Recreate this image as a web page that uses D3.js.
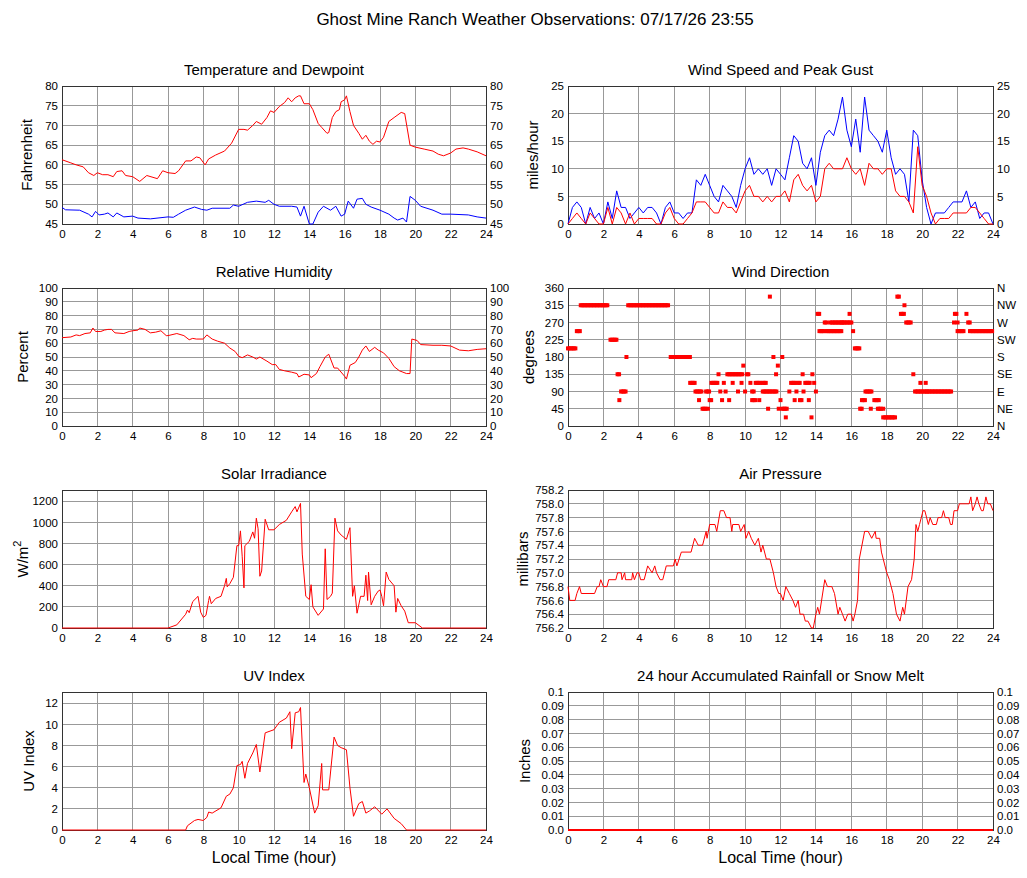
<!DOCTYPE html>
<html><head><meta charset="utf-8">
<script src="https://cdn.jsdelivr.net/npm/d3@7"></script>
<style>body{margin:0;background:#fff}svg{font-family:"Liberation Sans",Arial,sans-serif}</style>
</head><body><svg id="c" width="1027" height="878"></svg>
<script>
const hourTicks = [0,2,4,6,8,10,12,14,16,18,20,22,24];
const tempData = [[0,61.3],[0.5,60.5],[0.8,60],[1.2,59.5],[1.5,58],[1.8,57.3],[2,58],[2.3,57.5],[2.6,57.5],[2.9,57],[3.1,58.3],[3.4,58.5],[3.6,57.3],[4,57],[4.4,55.8],[4.8,57.3],[5.4,56.5],[5.7,58.5],[6,58],[6.4,57.8],[6.6,58.5],[7,61],[7.3,61],[7.6,62],[7.8,61.8],[8.1,60],[8.3,61.5],[8.7,62.5],[9.2,63.5],[9.6,65.5],[10,69],[10.3,69],[10.5,68.8],[10.8,70],[11,71],[11.3,70.3],[11.6,72],[11.8,73.7],[12,73.3],[12.3,74.8],[12.6,75.8],[12.8,77],[13,76],[13.2,77],[13.4,77.5],[13.5,77.5],[13.7,75.5],[14,75.5],[14.2,74],[14.5,70.5],[14.7,69.5],[15,68],[15.1,68.2],[15.3,72],[15.5,73.5],[15.7,74],[15.8,76],[16,76.5],[16.1,77.5],[16.3,73.5],[16.5,70],[16.8,68],[17,66.5],[17.2,67.5],[17.4,66],[17.6,65.2],[17.8,66],[18,65.8],[18.2,67],[18.5,71],[18.8,72],[19.2,73.3],[19.4,73],[19.7,65],[20,64.5],[20.5,64],[21,63.5],[21.3,62.7],[21.6,62.3],[22,63],[22.3,64],[22.7,64.3],[23,64],[23.5,63.3],[24,62.3]];
const dewData = [[0,49.2],[0.2,48.6],[1,48.5],[1.5,47.5],[1.7,46.8],[1.9,48.2],[2.1,47.3],[2.4,47.5],[2.6,47.8],[2.9,46.8],[3.1,47.8],[3.5,46.8],[4,47],[4.3,46.5],[5,46.3],[6,46.8],[6.3,46.7],[6.6,47.5],[7,48.5],[7.5,49.3],[7.9,48.7],[8.2,48.5],[8.5,49],[9,49],[9.5,49],[9.7,49.8],[10,49.5],[10.5,50.5],[11,50.8],[11.5,50.5],[11.7,51],[12,50],[12.3,49.5],[13,49.5],[13.3,49.3],[13.5,47],[13.7,49.5],[14,45],[14.2,45],[14.5,48],[14.8,49.5],[15.2,48.5],[15.5,49.5],[15.8,47],[16,47.5],[16.2,50.8],[16.5,49],[16.7,51.3],[17,51.5],[17.2,50],[17.5,49.3],[18,48.5],[18.5,47.5],[18.8,46.5],[19,46],[19.3,46.5],[19.5,45.5],[19.7,52],[20,51],[20.3,49.5],[21,48.5],[21.5,47.5],[22,47.5],[23,47.3],[23.5,46.8],[24,46.5]];
const windStep = 0.25;
const windSpeed = [0,1,2,1, 0,2,1,0, 0,3,0,3, 2,0,2,0, 1,1,1,1, 0,0,2,3, 1,0,0,1, 2,4,4,4, 3,2,2,4, 3,3,2,4, 6,7,5,5, 4,5,4,5, 5,6,4,8, 9,7,6,7, 4,5,10,11, 10,10,10,12, 10,9,10,7, 11,10,10,9, 10,10,6,5, 5,4,2,14, 7,5,2,0, 1,1,1,2, 2,2,2,3, 3,2,1,0, 0];
const windGust = [0,3,4,3, 0,3,1,2, 0,4,1,6, 3,3,1,2, 3,2,3,3, 2,0,3,4, 2,2,1,2, 2,8,7,9, 7,5,4,7, 6,5,3,7, 10,12,9,10, 9,10,7,10, 9,8,12,16, 15,11,10,12, 7,13,16,17, 16,19,23,17, 14,19,13,23, 17,16,15,13, 17,12,9,10, 9,4,17,16, 8,3,0,2, 2,2,3,4, 4,4,6,3, 4,1,2,2, 0];
const dirRuns = [[0,0.45,202.5],[0.5,0.7,247.5],[0.72,2.3,315],[2.4,2.8,225],[2.8,2.95,135],[2.9,2.9,67.5],[3.0,3.3,90],[3.3,3.3,180],[3.4,5.7,315],[5.8,6.9,180],[6.9,7.2,112.5],[7.2,7.6,90],[7.4,7.4,67.5],[7.6,7.8,45],[7.8,8.0,90],[7.9,7.9,45],[8.0,8.1,67.5],[8.1,8.5,112.5],[8.5,8.5,135],[8.6,8.6,90],[8.7,8.7,67.5],[8.8,8.8,112.5],[8.9,8.9,90],[9.0,9.9,135],[9.1,9.1,67.5],[9.3,9.3,112.5],[9.6,9.6,90],[9.8,9.8,112.5],[9.9,9.9,157.5],[10,10,90],[10.1,10.2,135],[10.3,10.3,112.5],[10.4,10.5,90],[10.4,10.6,67.5],[10.6,10.9,112.5],[10.8,10.8,67.5],[11,11.2,112.5],[11,11.5,90],[11.3,11.3,45],[11.4,11.4,337.5],[11.6,11.8,90],[11.6,11.6,180],[11.75,11.75,135],[11.85,11.85,157.5],[11.9,11.9,45],[12,12,67.5],[12.1,12.1,180],[12.1,12.4,45],[12.3,12.3,22.5],[12.5,12.5,90],[12.6,12.9,112.5],[12.8,12.8,67.5],[12.9,12.9,90],[13,13.1,112.5],[13.1,13.2,67.5],[13.25,13.25,135],[13.3,13.3,90],[13.4,13.7,112.5],[13.6,13.6,67.5],[13.75,13.75,22.5],[13.8,13.8,135],[13.9,13.9,112.5],[14,14,90],[14.1,14.2,292.5],[14.2,14.5,247.5],[14.5,14.6,270],[14.6,15.5,247.5],[14.8,14.8,270],[14.9,15.5,270],[15.5,16,270],[15.9,15.9,292.5],[16.1,16.1,247.5],[16.2,16.5,202.5],[16.5,16.6,45],[16.6,16.8,67.5],[16.8,17.2,90],[17.1,17.1,45],[17.3,17.6,67.5],[17.5,17.7,45],[17.8,17.8,45],[17.8,18.5,22.5],[18.6,18.7,337.5],[18.8,19.0,292.5],[19.0,19.0,315],[19.1,19.4,270],[19.5,19.5,135],[19.6,20.3,90],[19.9,19.9,112.5],[20.2,20.2,112.5],[20.3,21.7,90],[21.8,21.8,270],[21.85,21.95,292.5],[22,22,270],[22,22.4,247.5],[22.5,22.5,292.5],[22.6,22.7,270],[22.7,24,247.5]];
const dirTicks = [0,45,90,135,180,225,270,315,360];
const compassLabels = ["N","NE","E","SE","S","SW","W","NW","N"];
const rhData = [[0,64],[0.5,64.5],[0.8,66],[1,65.5],[1.3,67],[1.6,67.5],[1.75,71],[1.9,68.5],[2.2,68.5],[2.4,69.5],[2.6,70],[2.8,70],[3,67.5],[3.5,67],[3.8,68.5],[4,69],[4.3,69.5],[4.4,71],[4.7,70],[5,67.5],[5.3,68],[5.6,69],[5.9,65.5],[6,65.5],[6.5,67],[6.9,65.5],[7.2,62.5],[7.4,63.5],[7.6,63],[8,63],[8.2,66],[8.5,63],[8.8,61.5],[9.2,60],[9.5,56.5],[9.8,54],[10,50.5],[10.2,49.5],[10.5,51.5],[10.8,50],[11,48.5],[11.2,50],[11.6,47],[11.9,44.5],[12.1,44.5],[12.3,41],[12.6,40],[13,39],[13.3,38],[13.4,35.5],[13.7,37.5],[14,37],[14.1,35],[14.4,38],[14.6,43],[14.9,50],[15.1,52],[15.4,42],[15.6,42],[16,36],[16.1,34],[16.3,44],[16.6,46],[16.8,50],[17,55],[17.2,58],[17.4,54],[17.7,57],[17.9,55],[18.2,53],[18.5,49],[18.8,43],[19.1,40],[19.3,39],[19.5,38],[19.7,38],[19.8,63],[20.1,62],[20.3,59],[21,58.5],[21.5,58.5],[22,58],[22.5,55],[23,54.5],[23.5,55.5],[24,56]];
const solarData = [[0,0],[6,0],[6.5,30],[7,130],[7.1,170],[7.2,145],[7.4,250],[7.7,300],[7.85,150],[8,100],[8.15,120],[8.3,260],[8.35,300],[8.45,230],[8.7,280],[9,300],[9.2,400],[9.3,470],[9.35,390],[9.5,420],[9.7,480],[9.9,780],[10,780],[10.1,920],[10.2,680],[10.3,380],[10.35,780],[10.6,820],[10.8,910],[10.9,850],[11.0,1040],[11.1,940],[11.2,490],[11.3,540],[11.5,1030],[11.7,930],[12,930],[12.3,980],[12.7,1020],[13,1100],[13.2,1150],[13.3,1100],[13.5,1180],[13.6,700],[13.8,300],[14,270],[14.1,410],[14.2,200],[14.5,120],[14.8,180],[14.9,750],[15,270],[15.2,300],[15.3,330],[15.45,1040],[15.6,920],[15.8,880],[16.1,840],[16.3,950],[16.45,300],[16.55,400],[16.7,140],[16.9,300],[17.1,300],[17.2,500],[17.3,260],[17.35,530],[17.5,220],[17.7,300],[17.9,350],[18,360],[18.1,300],[18.2,210],[18.35,530],[18.5,460],[18.8,400],[18.9,150],[19,280],[19.2,210],[19.4,160],[19.6,50],[20,50],[20.4,0],[24,0]];
const uvData = [[0,0],[7,0],[7.1,0.4],[7.5,0.9],[7.7,1],[8,0.9],[8.2,1.2],[8.3,1.7],[8.5,1.6],[9,2.1],[9.3,3.2],[9.5,3.4],[9.7,4],[9.9,6.1],[10.1,6.2],[10.2,6.5],[10.35,4.9],[10.5,6.3],[10.8,7.3],[11,8.1],[11.2,5.5],[11.5,9.2],[12,9.5],[12.3,10.2],[12.7,10.6],[12.9,11.2],[13,7.7],[13.2,11.1],[13.4,11.2],[13.5,11.6],[13.7,4.5],[13.8,5.3],[14,4],[14.3,1.6],[14.5,2.3],[14.7,6.3],[14.75,3.8],[15.1,3.8],[15.4,8.8],[15.6,8],[15.8,7.8],[16.1,7.6],[16.3,4],[16.5,1.3],[16.8,2.5],[17,2.7],[17.2,1.6],[17.4,1.8],[17.7,2.2],[18.1,1.5],[18.4,2],[18.8,1.1],[19.2,0.6],[19.5,0],[24,0]];
const pressData = [[0,756.8],[0.1,756.6],[0.4,756.6],[0.5,756.7],[0.65,756.8],[0.75,756.7],[1.5,756.7],[1.65,756.8],[1.75,756.8],[1.85,756.9],[2,756.8],[2.2,756.8],[2.3,756.9],[2.7,756.9],[2.8,757.0],[3.0,757.0],[3.05,756.9],[3.2,757.0],[3.25,756.9],[3.6,756.9],[3.65,757.0],[3.75,756.9],[3.9,757.0],[4.0,757.0],[4.1,756.9],[4.3,756.9],[4.5,757.1],[4.75,757.0],[4.9,757.1],[5,757.0],[5.2,756.9],[5.35,756.9],[5.55,757.1],[5.95,757.1],[6.05,757.2],[6.15,757.1],[6.4,757.3],[6.95,757.3],[7.15,757.5],[7.35,757.4],[7.6,757.4],[7.8,757.6],[7.85,757.5],[8,757.7],[8.3,757.7],[8.4,757.6],[8.6,757.9],[8.8,757.9],[8.95,757.8],[9.15,757.8],[9.25,757.6],[9.3,757.7],[9.65,757.7],[9.75,757.6],[9.95,757.7],[10.05,757.5],[10.2,757.6],[10.35,757.5],[10.55,757.4],[10.75,757.5],[10.9,757.3],[11,757.4],[11.2,757.2],[11.4,757.2],[11.6,757.0],[11.75,756.8],[11.9,756.7],[12,756.7],[12.15,756.6],[12.3,756.8],[12.5,756.7],[12.7,756.6],[12.85,756.5],[13,756.6],[13.1,756.4],[13.3,756.4],[13.4,756.3],[13.55,756.3],[13.75,756.2],[13.85,756.2],[14,756.4],[14.1,756.5],[14.2,756.4],[14.5,756.9],[14.65,756.8],[14.9,756.8],[15.05,756.7],[15.25,756.4],[15.35,756.5],[15.5,756.4],[15.65,756.3],[15.8,756.4],[16,756.4],[16.1,756.3],[16.2,756.4],[16.35,756.6],[16.45,757.2],[16.75,757.6],[16.95,757.6],[17.15,757.5],[17.35,757.6],[17.4,757.5],[17.6,757.5],[17.7,757.3],[18,757.0],[18.15,756.9],[18.35,756.7],[18.55,756.4],[18.75,756.3],[18.9,756.5],[19,756.4],[19.2,756.8],[19.4,756.9],[19.55,757.2],[19.65,757.7],[19.75,757.6],[19.85,757.7],[20.05,757.9],[20.15,757.9],[20.35,757.7],[20.45,757.8],[20.6,757.7],[20.8,757.7],[20.9,757.8],[21.1,757.8],[21.2,757.9],[21.3,757.8],[21.5,757.8],[21.6,757.7],[21.7,757.7],[21.8,757.9],[22,757.9],[22.1,758.0],[22.65,758.0],[22.75,758.1],[22.85,757.9],[23,758.0],[23.1,758.1],[23.2,758.0],[23.35,757.9],[23.45,757.9],[23.6,758.1],[23.7,758.0],[23.85,758.0],[24,757.9]];
const rainData = [[0,0],[24,0]];

const svg = d3.select("#c");
svg.append("text").attr("x",535).attr("y",25).attr("text-anchor","middle").attr("font-size",17)
  .text("Ghost Mine Ranch Weather Observations: 07/17/26 23:55");

const cols = [[62,486],[568,993]];
const rows = [[86,224],[288,426],[490,628],[692,830]];
const TF = 11.5;

function panel(o){
  const [x0,x1] = cols[o.col], [y0,y1] = rows[o.row];
  const g = svg.append("g");
  const x = d3.scaleLinear().domain([0,24]).range([x0,x1]);
  const y = d3.scaleLinear().domain(o.dom).range([y1,y0]);
  g.append("text").attr("x",(x0+x1)/2).attr("y",y0-11).attr("text-anchor","middle").attr("font-size",15).text(o.title);
  g.append("g").selectAll("line").data(hourTicks).join("line")
    .attr("x1",d=>x(d)).attr("x2",d=>x(d)).attr("y1",y0).attr("y2",y1).attr("stroke","#999").attr("stroke-width",1).attr("shape-rendering","crispEdges");
  g.append("g").selectAll("line").data(o.ticks).join("line")
    .attr("x1",x0).attr("x2",x1).attr("y1",d=>y(d)).attr("y2",d=>y(d)).attr("stroke","#999").attr("stroke-width",1).attr("shape-rendering","crispEdges");
  const ax = g.append("g").attr("transform",`translate(0,${y1})`).call(d3.axisBottom(x).tickValues(hourTicks).tickSize(0).tickPadding(6));
  const ay = g.append("g").attr("transform",`translate(${x0},0)`).call(d3.axisLeft(y).tickValues(o.ticks).tickFormat(o.fmt||(d=>d)).tickSize(0).tickPadding(4));
  [ax,ay].forEach(a=>{a.select(".domain").remove();a.selectAll("text").attr("font-size",TF).attr("fill","#000").attr("font-family","Liberation Sans, Arial, sans-serif");});
  if(o.right){
    const ar = g.append("g").attr("transform",`translate(${x1},0)`).call(d3.axisRight(y).tickValues(o.ticks).tickFormat(o.rfmt||o.fmt||(d=>d)).tickSize(0).tickPadding(4));
    ar.select(".domain").remove();
    ar.selectAll("text").attr("font-size",TF).attr("fill","#000").attr("font-family","Liberation Sans, Arial, sans-serif");
  }
  const lab = g.append("text").attr("transform",`translate(${x0-o.labOff},${(y0+y1)/2}) rotate(-90)`).attr("text-anchor","middle").attr("font-size",15);
  if(o.labHtml) o.labHtml(lab); else lab.text(o.label);
  if(o.row===3) g.append("text").attr("x",(x0+x1)/2).attr("y",y1+33).attr("text-anchor","middle").attr("font-size",16).text("Local Time (hour)");
  g.append("rect").attr("x",x0).attr("y",y0).attr("width",x1-x0).attr("height",y1-y0).attr("fill","none").attr("stroke","#333").attr("shape-rendering","crispEdges");
  const line = d3.line().x(d=>x(d[0])).y(d=>y(d[1]));
  (o.series||[]).forEach(s=>g.append("path").datum(s.data).attr("d",line).attr("fill","none").attr("stroke",s.color).attr("stroke-width",s.w||1));
  return {g,x,y};
}

panel({col:0,row:0,title:"Temperature and Dewpoint",dom:[45,80],ticks:d3.range(45,81,5),right:true,label:"Fahrenheit",labOff:30,
  series:[{data:tempData,color:"#f00"},{data:dewData,color:"#00f"}]});
const toPairs = arr => arr.map((v,i)=>[i*windStep,v]);
panel({col:1,row:0,title:"Wind Speed and Peak Gust",dom:[0,25],ticks:[0,5,10,15,20,25],right:true,label:"miles/hour",labOff:30,
  series:[{data:toPairs(windGust),color:"#00f"},{data:toPairs(windSpeed),color:"#f00"}]});
panel({col:0,row:1,title:"Relative Humidity",dom:[0,100],ticks:d3.range(0,101,10),right:true,label:"Percent",labOff:34,
  series:[{data:rhData,color:"#f00"}]});
const wd = panel({col:1,row:1,title:"Wind Direction",dom:[0,360],ticks:dirTicks,right:true,rfmt:(d,i)=>compassLabels[i],label:"degrees",labOff:34});
const dirPts = [];
dirRuns.forEach(([a,b,v])=>{ for(let t=a;t<=b+1e-9;t+=1/12) dirPts.push([t,v]); });
wd.g.append("g").selectAll("rect").data(dirPts).join("rect")
  .attr("x",d=>wd.x(d[0])-2).attr("y",d=>wd.y(d[1])-2).attr("width",4).attr("height",4).attr("fill","#f00");
panel({col:0,row:2,title:"Solar Irradiance",dom:[0,1307],ticks:[0,200,400,600,800,1000,1200],label:"",labOff:34,
  labHtml:t=>{t.append("tspan").text("W/m");t.append("tspan").attr("dy",-7).attr("font-size",11).text("2");},
  series:[{data:solarData,color:"#f00"}]});
panel({col:1,row:2,title:"Air Pressure",dom:[756.2,758.2],ticks:d3.range(0,11).map(i=>756.2+i*0.2),fmt:d=>d.toFixed(1),label:"millibars",labOff:40,
  series:[{data:pressData,color:"#f00"}]});
panel({col:0,row:3,title:"UV Index",dom:[0,13.07],ticks:[0,2,4,6,8,10,12],label:"UV Index",labOff:28,
  series:[{data:uvData,color:"#f00"}]});
panel({col:1,row:3,title:"24 hour Accumulated Rainfall or Snow Melt",dom:[0,0.1],ticks:d3.range(0,11).map(i=>i/100),
  fmt:d=>d===0?"0.0":(+d.toFixed(2)).toString(),right:true,label:"Inches",labOff:38,
  series:[{data:rainData,color:"#f00",w:2}]});
</script></body></html>
